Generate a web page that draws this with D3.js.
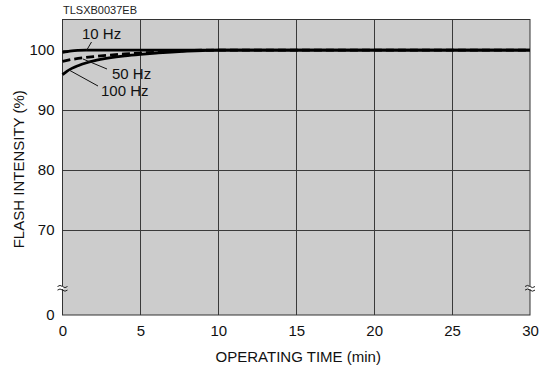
<!DOCTYPE html>
<html>
<head>
<meta charset="utf-8">
<script src="https://cdn.jsdelivr.net/npm/d3@7"></script>
<style>
  html, body { margin: 0; padding: 0; background: #fff; }
  svg { display: block; font-family: "Liberation Sans", Arial, sans-serif; }
</style>
</head>
<body>
<svg id="chart" width="541" height="368"></svg>
<script>
// Flash intensity vs. operating time, per flash frequency
const timeTicks = [0, 5, 10, 15, 20, 25, 30];
const intensityTicks = [0, 70, 80, 90, 100];

const time10 = [0, 0.3, 0.6, 1, 1.5, 2, 30];
const hz10 = [99.6, 99.75, 99.87, 99.95, 99.99, 100, 100];

const time50 = [0, 0.5, 1, 2, 3, 4, 5, 6, 7, 8, 9, 30];
const hz50 = [98.1, 98.4, 98.6, 98.9, 99.15, 99.35, 99.5, 99.65, 99.78, 99.9, 100, 100];

const time100 = [0, 0.3, 0.6, 1, 1.5, 2, 3, 4, 5, 6, 7, 8, 9, 10, 30];
const hz100 = [95.9, 96.5, 96.95, 97.4, 97.85, 98.2, 98.7, 99.05, 99.3, 99.5, 99.68, 99.82, 99.93, 100, 100];

const series = [
  { name: "10 Hz", t: time10, v: hz10, dash: null },
  { name: "50 Hz", t: time50, v: hz50, dash: "8,4" },
  { name: "100 Hz", t: time100, v: hz100, dash: null }
];

const svg = d3.select("#chart");
const plotL = 62.5, plotR = 530, plotT = 19.5, plotB = 315;
const fontSize = 15;

const x = d3.scaleLinear().domain([0, 30]).range([plotL, plotR]);
// broken axis: 0..70 is compressed below the break
const y = d3.scaleLinear().domain([0, 70, 105.1]).range([plotB, 230, plotT]);

// plot background
svg.append("rect")
  .attr("x", plotL).attr("y", plotT)
  .attr("width", plotR - plotL).attr("height", plotB - plotT)
  .attr("fill", "#cccccc");

// grid
const grid = svg.append("g").attr("stroke", "#3a3a3a").attr("stroke-width", 1);
timeTicks.slice(1, -1).forEach(t => {
  grid.append("line")
    .attr("x1", Math.round(x(t)) + 0.5).attr("x2", Math.round(x(t)) + 0.5)
    .attr("y1", plotT).attr("y2", plotB);
});
intensityTicks.slice(1).forEach(v => {
  grid.append("line")
    .attr("x1", plotL).attr("x2", plotR)
    .attr("y1", Math.round(y(v)) + 0.5).attr("y2", Math.round(y(v)) + 0.5);
});

// frame
svg.append("rect")
  .attr("x", plotL).attr("y", plotT)
  .attr("width", plotR - plotL).attr("height", plotB - plotT)
  .attr("fill", "none").attr("stroke", "#333").attr("stroke-width", 1);

// axes (labels only)
const xAxis = d3.axisBottom(x).tickValues(timeTicks).tickSize(0).tickPadding(10);
const gx = svg.append("g").attr("transform", `translate(0,${plotB})`).call(xAxis);
gx.select(".domain").remove();
gx.selectAll("text").attr("font-size", fontSize).attr("fill", "#111")
  .attr("font-family", "Liberation Sans, Arial, sans-serif");

const yAxis = d3.axisLeft(y).tickValues(intensityTicks).tickSize(0).tickPadding(8);
const gy = svg.append("g").attr("transform", `translate(${plotL},0)`).call(yAxis);
gy.select(".domain").remove();
gy.selectAll("text").attr("font-size", fontSize).attr("fill", "#111")
  .attr("font-family", "Liberation Sans, Arial, sans-serif");

// axis break marks
const breakY = 287.5;
[plotL, plotR].forEach(bx => {
  svg.append("rect").attr("x", bx - 1).attr("y", breakY - 1.5)
    .attr("width", 2).attr("height", 3).attr("fill", "#fff");
  [-1.8, 1.8].forEach(dy => {
    svg.append("path")
      .attr("d", `M${bx - 5},${breakY + dy + 0.8} q2.5,-2.2 5,0 t5,0`)
      .attr("fill", "none").attr("stroke", "#222").attr("stroke-width", 1);
  });
});

// curves
const line = d3.line().curve(d3.curveMonotoneX);
series.forEach(s => {
  const pts = s.t.map((t, i) => [x(t), y(s.v[i])]);
  svg.append("path")
    .attr("d", line(pts))
    .attr("fill", "none").attr("stroke", "#000").attr("stroke-width", 2.8)
    .attr("stroke-dasharray", s.dash);
});

// curve labels with leader lines
const labels = [
  { text: "10 Hz", tx: 82, ty: 39, l: [[91.5, 42], [86.5, 50.5]] },
  { text: "50 Hz", tx: 112, ty: 79, l: [[107, 69], [83, 59]] },
  { text: "100 Hz", tx: 101, ty: 96, l: [[98, 86], [69, 70]] }
];
labels.forEach(d => {
  svg.append("text").attr("x", d.tx).attr("y", d.ty)
    .attr("font-size", fontSize).attr("fill", "#111").text(d.text);
  svg.append("line")
    .attr("x1", d.l[0][0]).attr("y1", d.l[0][1])
    .attr("x2", d.l[1][0]).attr("y2", d.l[1][1])
    .attr("stroke", "#111").attr("stroke-width", 1);
});

// title code and axis titles
svg.append("text").attr("x", 63).attr("y", 14)
  .attr("font-size", 11).attr("fill", "#222").text("TLSXB0037EB");

svg.append("text").attr("x", (plotL + plotR) / 2 + 2).attr("y", 362)
  .attr("text-anchor", "middle").attr("font-size", fontSize).attr("fill", "#111")
  .text("OPERATING TIME (min)");

svg.append("text")
  .attr("transform", `translate(24,${(plotT + plotB) / 2 + 2}) rotate(-90)`)
  .attr("text-anchor", "middle").attr("font-size", fontSize).attr("fill", "#111")
  .text("FLASH INTENSITY (%)");
</script>
</body>
</html>
